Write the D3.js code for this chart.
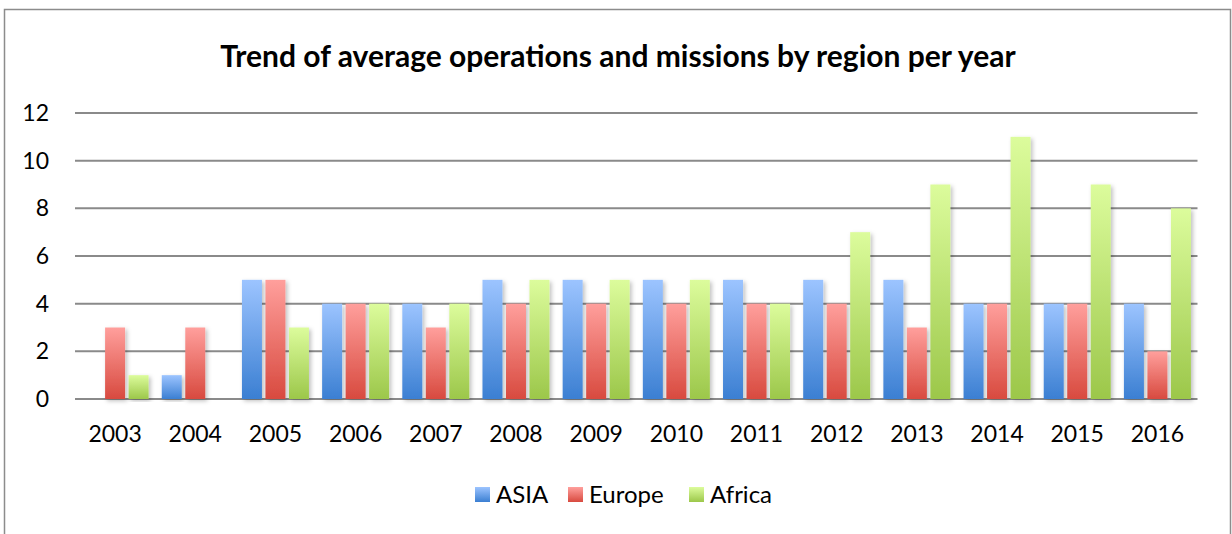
<!DOCTYPE html>
<html>
<head>
<meta charset="utf-8">
<script src="https://cdn.jsdelivr.net/npm/d3@7"></script>
<style>
body { margin: 0; background: #fff; }
text { font-family: Lato, "Open Sans", sans-serif; fill: #000; }
</style>
</head>
<body>
<script>
var w = 1232, h = 534;

var years = ["2003", "2004", "2005", "2006", "2007", "2008", "2009",
    "2010", "2011", "2012", "2013", "2014", "2015", "2016"];
var seriesNames = ["ASIA", "Europe", "Africa"];
var asia = [0, 1, 5, 4, 4, 5, 5, 5, 5, 5, 5, 4, 4, 4];
var europe = [3, 3, 5, 4, 3, 4, 4, 4, 4, 4, 3, 4, 4, 2];
var africa = [1, 0, 3, 4, 4, 5, 5, 5, 4, 7, 9, 11, 9, 8];
var yTicks = [0, 2, 4, 6, 8, 10, 12];

var seriesValues = [asia, europe, africa];
// gradient top / bottom colours per series
var colors = [["#9cc4ff", "#3b7fd2"], ["#ff9f9c", "#d84a3f"], ["#dcfc9c", "#9cc74a"]];

var svg = d3.select("body").append("svg")
    .attr("width", w)
    .attr("height", h);

var defs = svg.append("defs");
colors.forEach(function (c, i) {
    var g = defs.append("linearGradient")
        .attr("id", "grad" + i)
        .attr("x1", 0).attr("y1", 0).attr("x2", 0).attr("y2", 1);
    g.append("stop").attr("offset", "0%").attr("stop-color", c[0]);
    g.append("stop").attr("offset", "100%").attr("stop-color", c[1]);
});
defs.append("filter").attr("id", "shadow")
    .attr("x", "-20%").attr("y", "-5%").attr("width", "150%").attr("height", "115%")
    .append("feDropShadow")
    .attr("dx", 2).attr("dy", 2).attr("stdDeviation", 2)
    .attr("flood-color", "#000").attr("flood-opacity", 0.25);

// chart border
svg.append("rect")
    .attr("x", 4.5).attr("y", 9.5)
    .attr("width", 1226).attr("height", 530)
    .attr("fill", "none")
    .attr("stroke", "#8c8c8c")
    .attr("stroke-width", 1.5);

svg.append("text")
    .attr("x", 618).attr("y", 67)
    .attr("text-anchor", "middle")
    .attr("font-size", 30)
    .attr("font-weight", "bold")
    .text("Trend of average operations and missions by region per year");

var x = d3.scaleBand().domain(years).range([75, 1197.5]);
var y = d3.scaleLinear().domain([0, 12]).range([399, 113]);
var barW = 20, step = 23.5;

// gridlines
svg.selectAll(".grid").data(yTicks).enter()
    .append("line")
    .attr("x1", 75).attr("x2", 1197.5)
    .attr("y1", function (d) { return y(d); })
    .attr("y2", function (d) { return y(d); })
    .attr("stroke", "#8a8a8a")
    .attr("stroke-width", 2);

svg.selectAll(".ylab").data(yTicks).enter()
    .append("text")
    .attr("x", 49)
    .attr("y", function (d) { return y(d) + 8; })
    .attr("text-anchor", "end")
    .attr("font-size", 23)
    .text(function (d) { return d; });

svg.selectAll(".xlab").data(years).enter()
    .append("text")
    .attr("x", function (d) { return x(d) + x.bandwidth() / 2; })
    .attr("y", 442)
    .attr("text-anchor", "middle")
    .attr("font-size", 23)
    .text(function (d) { return d; });

seriesValues.forEach(function (vals, s) {
    svg.selectAll(".bar" + s).data(vals).enter()
        .append("rect")
        .attr("x", function (d, i) {
            return x(years[i]) + x.bandwidth() / 2 - barW / 2 + (s - 1) * step;
        })
        .attr("y", function (d) { return y(d); })
        .attr("width", barW)
        .attr("height", function (d) { return y(0) - y(d); })
        .attr("fill", "url(#grad" + s + ")")
        .attr("filter", "url(#shadow)");
});

// legend
var legendX = [475, 568, 689];
seriesNames.forEach(function (name, s) {
    svg.append("rect")
        .attr("x", legendX[s]).attr("y", 487)
        .attr("width", 15).attr("height", 15)
        .attr("fill", "url(#grad" + s + ")");
    svg.append("text")
        .attr("x", legendX[s] + 21).attr("y", 503)
        .attr("font-size", 24)
        .text(name);
});
</script>
</body>
</html>
